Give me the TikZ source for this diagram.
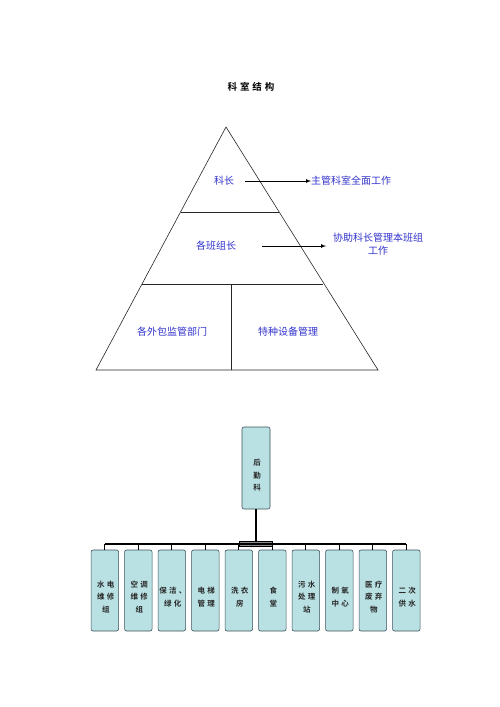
\documentclass[tikz,border=0pt]{standalone}
\usepackage{fontspec}
\setmainfont{Noto Sans CJK SC}
\newfontfamily\cjk{Noto Sans CJK SC}
\newfontfamily\cjkt[LetterSpace=30]{Noto Sans CJK SC Bold}
\newfontfamily\cjks[LetterSpace=30]{Noto Sans CJK SC Bold}
\definecolor{txtblue}{RGB}{50,50,205}
\definecolor{boxfill}{RGB}{185,224,226}
\definecolor{boxline}{RGB}{60,80,90}
\tikzset{
  bluetxt/.style={text=txtblue,font=\cjk\fontsize{10}{13}\selectfont,inner sep=0pt,align=center},
  tri/.style={draw=black!85,line width=0.6pt},
  arr/.style={-latex,line width=0.7pt},
  orgbox/.style={draw=boxline,fill=boxfill,rounded corners=2pt,line width=0.6pt},
  orgtxt/.style={font=\cjks\fontsize{7.5}{12.5}\selectfont,align=center,inner sep=0pt,text=black!85},
  conn/.style={line width=1.2pt,draw=black}
}
\begin{document}
\begin{tikzpicture}[x=1pt,y=-1pt]
\useasboundingbox (0,0) rectangle (500,707);
% title
\node[font=\cjkt\fontsize{9.5}{12}\selectfont,inner sep=0pt] (title) at (251,87) {科室结构};
% pyramid
\coordinate (apex) at (226,127);
\coordinate (bl) at (96,370);
\coordinate (br) at (378,370);
\draw[tri] (apex) -- (bl) -- (br) -- cycle;
\coordinate (l1a) at (180.5,212);
\coordinate (l1b) at (279,212);
\coordinate (l2a) at (142,284);
\coordinate (l2b) at (323,284);
\coordinate (vt) at (231,284);
\coordinate (vb) at (231,370);
\draw[tri] (l1a) -- (l1b);
\draw[tri] (l2a) -- (l2b);
\draw[tri] (vt) -- (vb);
% texts
\node[bluetxt] (kz) at (224,181) {科长};
\node[bluetxt,anchor=west] (kzd) at (311,181) {主管科室全面工作};
\coordinate (a1s) at (245,181);
\draw[arr] (a1s) -- (kzd.west);
\node[bluetxt] (bz) at (216,246) {各班组长};
\node[bluetxt,anchor=north] (bzd) at (378,233) {协助科长管理本班组\\工作};
\coordinate (a2s) at (262,246);
\coordinate (a2e) at (326,246);
\draw[arr] (a2s) -- (a2e);
\node[bluetxt] (wb) at (172,332) {各外包监管部门};
\node[bluetxt] (tz) at (288,332) {特种设备管理};
% org chart
\node[orgbox,minimum width=28pt,minimum height=82pt,inner sep=0pt] (hq) at (256,468) {};
\node[orgtxt] (hqt) at (257,475.5) {后\\勤\\科};
\coordinate (hb) at (256,541);
\coordinate (hl) at (105,544);
\coordinate (hr) at (406,544);
\draw[conn] (hq.south) -- (hb);
\filldraw[fill=black!45,draw=black,line width=0.8pt] (239,541) rectangle (272,546);
\draw[conn] (hl) -- (hr);
\foreach \i/\t in {0/{水电\\维修\\组},1/{空调\\维修\\组},2/{保洁、\\绿化},3/{电梯\\管理},4/{洗衣\\房},5/{食\\堂},6/{污水\\处理\\站},7/{制氧\\中心},8/{医疗\\废弃\\物},9/{二次\\供水}}{
  \pgfmathsetmacro{\cx}{104.8+33.5*\i}
  \node[orgbox,minimum width=27.5pt,minimum height=81pt,inner sep=0pt] (b\i) at (\cx,590.5) {};
  \node[orgtxt] (t\i) at (\cx+1,597) {\t};
  \coordinate (c\i) at (\cx,544);
  \draw[conn] (c\i) -- (b\i.north);
}
\end{tikzpicture}
\end{document}
